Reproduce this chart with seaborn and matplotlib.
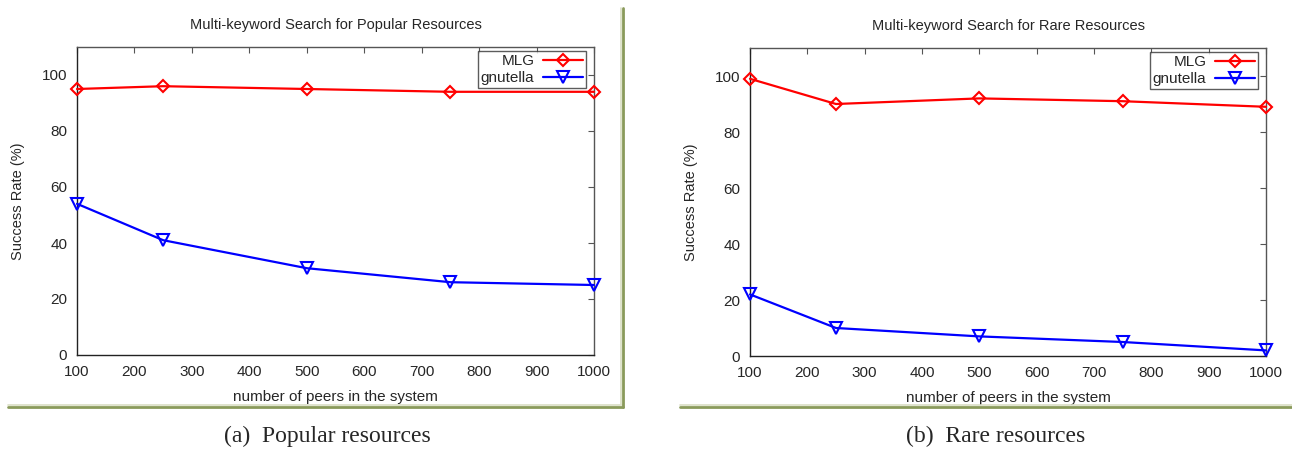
import matplotlib
matplotlib.use('Agg')
import matplotlib.pyplot as plt
import seaborn as sns
import pandas as pd
from matplotlib.lines import Line2D

peers = [100, 250, 500, 750, 1000]
popular_mlg = [95, 96, 95, 94, 94]
popular_gnutella = [54, 41, 31, 26, 25]
rare_mlg = [99, 90, 92, 91, 89]
rare_gnutella = [22, 10, 7, 5, 2]

x_ticks = [100, 200, 300, 400, 500, 600, 700, 800, 900, 1000]
y_ticks = [0, 20, 40, 60, 80, 100]

sns.set_style('white')
plt.rcParams['font.family'] = ['Liberation Sans', 'DejaVu Sans']

fig = plt.figure(figsize=(12.92, 4.49), dpi=100)
W, H = 1292, 449


def px_axes(x0, y0, x1, y1):
    return fig.add_axes([x0 / W, 1 - y1 / H, (x1 - x0) / W, (y1 - y0) / H])


panels = [
    (px_axes(77, 47, 594, 355), 'Multi-keyword Search for Popular Resources', popular_mlg, popular_gnutella),
    (px_axes(750, 48, 1266, 356), 'Multi-keyword Search for Rare Resources', rare_mlg, rare_gnutella),
]

for ax, title, mlg, gnu in panels:
    df = pd.DataFrame({'peers': peers, 'MLG': mlg, 'gnutella': gnu})
    sns.lineplot(data=df, x='peers', y='MLG', ax=ax, color='#ff0000', marker='D',
                 markersize=6, markerfacecolor='none', markeredgecolor='#ff0000',
                 markeredgewidth=1.5, linewidth=1.6, label='MLG', clip_on=False, zorder=5)
    sns.lineplot(data=df, x='peers', y='gnutella', ax=ax, color='#0000ff', marker='v',
                 markersize=9, markerfacecolor='none', markeredgecolor='#0000ff',
                 markeredgewidth=1.5, linewidth=1.6, label='gnutella', clip_on=False, zorder=5)
    ax.set_xlim(100, 1000)
    ax.set_ylim(0, 110)
    ax.set_xticks(x_ticks)
    ax.set_yticks(y_ticks)
    ax.tick_params(direction='in', length=4, width=0.8, color='#555555',
                   top=True, right=True, labelsize=11)
    ax.tick_params(axis='x', pad=7)
    ax.tick_params(axis='y', pad=7)
    ax.set_title(title, fontsize=10.5, pad=13)
    ax.set_xlabel('number of peers in the system', fontsize=11, labelpad=8)
    ax.set_ylabel('Success Rate (%)', fontsize=10.5, labelpad=12)
    for sp in ax.spines.values():
        sp.set_color('#555555')
        sp.set_linewidth(1.0)
    ax.spines['left'].set_color('#222222')
    ax.spines['bottom'].set_color('#222222')
    leg = ax.legend(loc='upper right', bbox_to_anchor=(0.985, 0.987), markerfirst=False,
                    fontsize=11, frameon=True, fancybox=False, handlelength=2.6,
                    handletextpad=0.6, borderpad=0.2, labelspacing=0.2, borderaxespad=0.0)
    leg.get_frame().set_edgecolor('#333333')
    leg.get_frame().set_linewidth(1.0)

# olive frame lines around the screenshot panels
olive = '#8a9a5b'
light = '#d9dec4'
for (x0, x1) in [(8, 623), (680, 1292)]:
    fig.add_artist(Line2D([x0 / W, x1 / W], [1 - 404.5 / H] * 2, color=light, lw=1.2))
    fig.add_artist(Line2D([x0 / W, x1 / W], [1 - 406.5 / H] * 2, color=olive, lw=2))
fig.add_artist(Line2D([620.5 / W] * 2, [1 - 8 / H, 1 - 404 / H], color=light, lw=1.2))
fig.add_artist(Line2D([622.5 / W] * 2, [1 - 8 / H, 1 - 407 / H], color=olive, lw=2))

# captions
fig.text(327 / W, 1 - 436 / H, '(a)  Popular resources', ha='center', va='center',
         fontsize=17, family=['Liberation Serif', 'DejaVu Serif'])
fig.text(996 / W, 1 - 436 / H, '(b)  Rare resources', ha='center', va='center',
         fontsize=17, family=['Liberation Serif', 'DejaVu Serif'])

fig.savefig('out.png', dpi=100)
